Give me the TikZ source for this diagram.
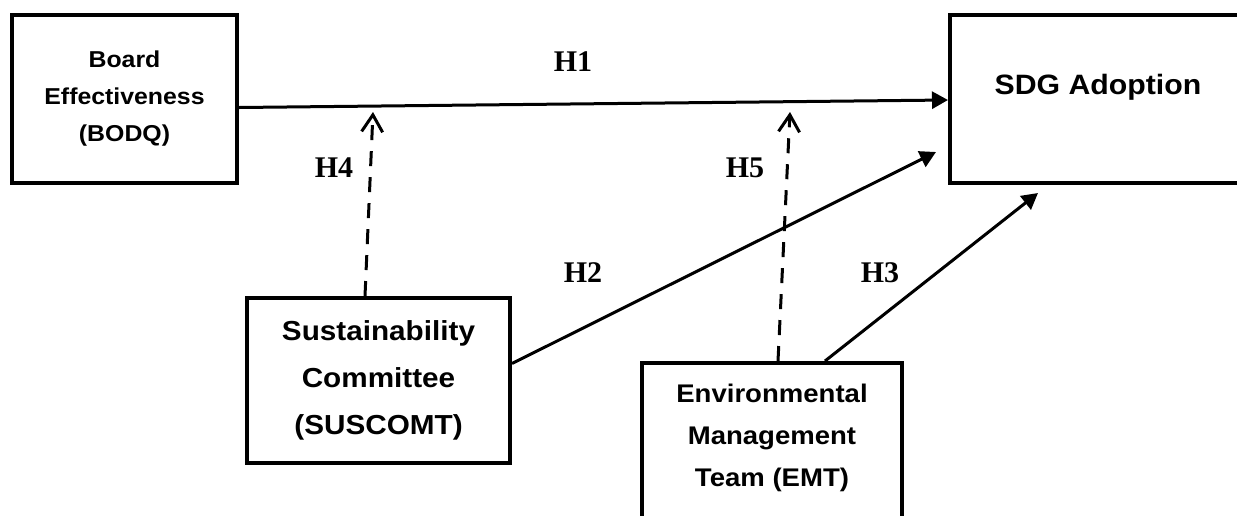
\documentclass[tikz,border=0pt]{standalone}
\usepackage{fontspec}
\setmainfont{Liberation Sans}
\newfontfamily\boxfont[FakeStretch=1.08]{Liberation Sans}
\newfontfamily\hfont{Liberation Serif}
\usetikzlibrary{arrows.meta,calc}
\tikzset{
  box/.style={draw, line width=4pt, rectangle, inner sep=0pt, align=center, font=\boxfont\bfseries},
  lbl/.style={font=\hfont\bfseries\fontsize{30}{30}\selectfont, inner sep=0pt},
  solidarrow/.style={line width=3pt, -{Triangle[length=16pt,width=17pt]}},
  modarrow/.style={line width=3pt, dash pattern=on 15pt off 11pt, -{Straight Barb[length=17pt,width=21pt,line width=3pt]}}
}
\begin{document}
\begin{tikzpicture}[x=1pt,y=-1pt]
\useasboundingbox (0,0) rectangle (1237,515);
\fill[white] (0,0) rectangle (1237,515);
\clip (0,0) rectangle (1237,515);
% boxes
\node[box, minimum width=225pt, minimum height=168pt, font=\boxfont\bfseries\fontsize{23}{37}\selectfont] (bodq) at (124.5,98.5) {Board\\Effectiveness\\(BODQ)};
\node[box, minimum width=296pt, minimum height=168pt] (sdg) at (1098,98.5) {};
\node[font=\boxfont\bfseries\fontsize{28}{28}\selectfont, inner sep=0pt] (sdgtext) at (1098,87) {SDG Adoption};
\node[box, minimum width=263pt, minimum height=165pt, font=\boxfont\bfseries\fontsize{27.5}{47}\selectfont] (sus) at (378.5,380.5) {Sustainability\\Committee\\(SUSCOMT)};
\node[box, minimum width=260pt, minimum height=180pt] (emt) at (772,453) {};
\node[font=\boxfont\bfseries\fontsize{25.5}{42}\selectfont, align=center, inner sep=0pt] (emttext) at (772,438) {Environmental\\Management\\Team (EMT)};
% free ends
\coordinate (h2end) at (936,152);
\coordinate (h3end) at (1038,193);
\coordinate (h4end) at (373,112);
\coordinate (h5end) at (790,112);
% connectors
\draw[solidarrow] ([yshift=-9pt]bodq.east) -- ([yshift=-1.5pt]sdg.west);
\draw[solidarrow] ([yshift=17pt]sus.east) -- (h2end);
\draw[solidarrow] ([xshift=53pt]emt.north) -- (h3end);
\draw[modarrow] ([xshift=-13.5pt]sus.north) -- (h4end);
\draw[modarrow] ([xshift=6pt]emt.north) -- (h5end);
% labels
\node[lbl] (h1) at (573,62) {H1};
\node[lbl] (h4) at (334,168) {H4};
\node[lbl] (h5) at (745,168) {H5};
\node[lbl] (h2) at (583,273) {H2};
\node[lbl] (h3) at (880,273) {H3};
\end{tikzpicture}
\end{document}
